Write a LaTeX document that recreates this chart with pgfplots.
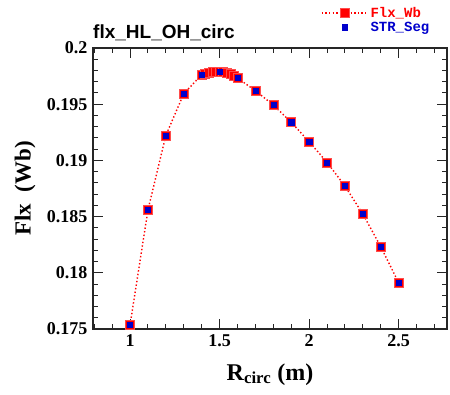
\documentclass[border=0pt]{standalone}
\usepackage{fontspec}
\setmainfont{Liberation Serif}
\newfontfamily\sansf{Liberation Sans}
\newfontfamily\monof{Liberation Mono}
\usepackage{pgfplots}
\pgfplotsset{compat=1.18}
\begin{document}
\begin{tikzpicture}
\path[use as bounding box] (-93pt,-65pt) rectangle (357pt,329pt);
\begin{axis}[
  at={(0,0)}, anchor=south west,
  scale only axis, width=354pt, height=281pt,
  xmin=0.793, xmax=2.77, ymin=0.175, ymax=0.2,
  xtick={1,1.5,2,2.5}, xticklabels={1,1.5,2,2.5},
  minor xtick={0.8,0.9,...,2.75},
  ytick={0.175,0.18,0.185,0.19,0.195,0.2},
  yticklabels={0.175,0.18,0.185,0.19,0.195,0.2},
  minor ytick={0.176,0.177,...,0.1995},
  tick align=inside,
  major tick length=10pt, minor tick length=5pt,
  axis line style={line width=1.3pt, black!85},
  every tick/.style={line width=1pt, black!85},
  ticklabel style={font=\fontsize{18}{20}\selectfont\bfseries},
  /pgf/number format/assume math mode=true,
  xticklabel style={yshift=-2pt},
  yticklabel style={xshift=-2pt},
  xlabel={\textbf{R\textsubscript{circ} (m)}},
  xlabel style={font=\fontsize{24}{26}\selectfont, at={(0.5,0)}, anchor=base, yshift=-51pt},
  legend style={at={(0.641,1.157)}, anchor=north west, draw=none, fill=none,
    font=\fontsize{14}{15}\selectfont\monof\bfseries, row sep=-1pt, inner sep=1pt},
  legend cell align=left,
  legend image code/.code={\draw[mark repeat=2,mark phase=2,#1] plot coordinates {(0pt,0pt) (23pt,0pt) (46pt,0pt)};},
  clip=false,
]
\addplot[red, line width=1.4pt, dash pattern=on 1.4pt off 2.2pt, mark=square*, mark size=4.5pt,
  mark options={solid, fill=red, draw=red!70, line width=0.6pt}]
  coordinates {
  (1.0,0.17536) (1.1,0.18559) (1.2,0.19223) (1.3,0.19594) (1.4,0.19762)
  (1.42,0.19772) (1.44,0.19780) (1.46,0.19786) (1.48,0.19789) (1.5,0.19789)
  (1.52,0.19786) (1.54,0.19779) (1.56,0.19768) (1.58,0.19753)
  (1.6,0.19733) (1.7,0.19620) (1.8,0.19493) (1.9,0.19339) (2.0,0.19166)
  (2.1,0.18983) (2.2,0.18772) (2.3,0.18523) (2.4,0.18232) (2.5,0.17912)};
\addlegendentry{\textcolor{red}{Flx\_Wb}}
\addplot[only marks, mark=square*, mark size=2.6pt, mark options={fill=blue!80!black, draw=blue!80!black}]
  coordinates {
  (1.0,0.17536) (1.1,0.18559) (1.2,0.19223) (1.3,0.19594) (1.4,0.19762)
  (1.5,0.19789) (1.6,0.19733) (1.7,0.19620) (1.8,0.19493) (1.9,0.19339)
  (2.0,0.19166) (2.1,0.18983) (2.2,0.18772) (2.3,0.18523) (2.4,0.18232) (2.5,0.17912)};
\addlegendentry{\textcolor{blue!80!black}{STR\_Seg}}
\node[anchor=base west, font=\fontsize{19}{21}\selectfont\sansf\bfseries, inner sep=0pt] at (rel axis cs:0,1) [yshift=10pt] {flx\_HL\_OH\_circ};
\node[font=\fontsize{23}{25}\selectfont\bfseries, rotate=90, anchor=center, inner sep=0pt] at ([xshift=-68pt]rel axis cs:0,0.5) {Flx\ \ (Wb)};
\end{axis}
\end{tikzpicture}
\end{document}
